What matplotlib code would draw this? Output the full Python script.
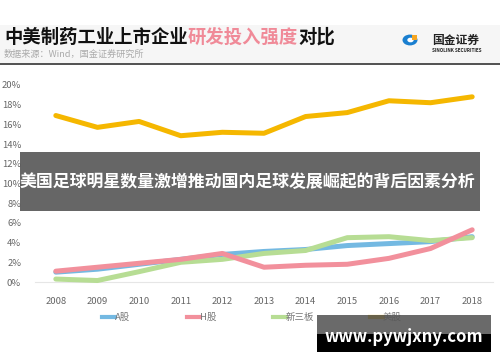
import matplotlib
matplotlib.use("Agg")
import matplotlib.pyplot as plt
import matplotlib.patches as mpatches
from matplotlib.lines import Line2D

plt.rcParams['font.family'] = ['Noto Sans CJK SC', 'DejaVu Sans']

# === datos ===
anios = ['2008', '2009', '2010', '2011', '2012', '2013', '2014', '2015', '2016', '2017', '2018']
a_gu = [1.0, 1.3, 1.8, 2.3, 2.8, 3.1, 3.3, 3.7, 3.9, 4.1, 4.6]
h_gu = [1.1, 1.5, 1.9, 2.3, 2.9, 1.5, 1.7, 1.8, 2.4, 3.4, 5.3]
xinsanban = [0.3, 0.15, 1.05, 2.0, 2.3, 2.9, 3.2, 4.5, 4.6, 4.2, 4.5]
mei_gu = [16.9, 15.7, 16.3, 14.85, 15.2, 15.1, 16.8, 17.2, 18.4, 18.2, 18.8]
yticks = [0, 2, 4, 6, 8, 10, 12, 14, 16, 18, 20]

c_a = '#74b9e2'
c_h = '#f2909c'
c_x = '#b7dd94'
c_m = '#f5b700'

W, H = 500, 362
fig = plt.figure(figsize=(5, 3.62), dpi=100)
fig.patch.set_facecolor('white')

def fx(px):
    return px / W

def fy(py):
    return 1 - py / H

# cabecera gris clara
fig.patches.append(mpatches.Rectangle((0, fy(63)), 1, fy(25) - fy(63), transform=fig.transFigure,
                                      facecolor='#f6f6f6', edgecolor='none', zorder=0))
fig.add_artist(Line2D([0, 1], [fy(63.5), fy(63.5)], color='#333333', lw=1.2))

# titulo en tres colores
piezas = [("中美制药工业上市企业", '#111111'), ("研发投入强度", '#f08a98'), ("对比", '#111111')]
fig.canvas.draw()
r = fig.canvas.get_renderer()
x0 = fx(4)
for txt, col in piezas:
    t = fig.text(x0, fy(37), txt, fontsize=13.2, fontweight='bold', color=col, va='center', ha='left')
    bb = t.get_window_extent(renderer=r)
    x0 = bb.x1 / (W)
fig.text(fx(4), fy(54), "数据来源：Wind，国金证券研究所", fontsize=6.6, color='#aaaaaa', va='center')

# logo
fig.patches.append(mpatches.Circle((fx(410), fy(40)), 7.5 / W, transform=fig.transFigure,
                                   facecolor='#1a7fd0', edgecolor='none'))
fig.patches.append(mpatches.Circle((fx(410.5), fy(40)), 3.2 / W, transform=fig.transFigure,
                                   facecolor='white', edgecolor='none'))
fig.patches.append(mpatches.Rectangle((fx(412), fy(40)), 5 / W, 5 / H, transform=fig.transFigure,
                                      facecolor='#f5a623', edgecolor='none'))
fig.text(fx(432), fy(40), "国金证券", fontsize=8.5, fontweight='bold', color='#222222', va='center')
fig.text(fx(432), fy(51), "SINOLINK SECURITIES", fontsize=3.3, fontweight='bold', color='#222222', va='center')

# === grafico ===
ax = fig.add_axes([fx(35), fy(282), fx(493) - fx(35), (282 - 85) / H])
x = list(range(len(anios)))
lw = 3.6
ax.plot(x, a_gu, color=c_a, lw=lw, solid_capstyle='round', label='A股', zorder=3)
ax.plot(x, xinsanban, color=c_x, lw=lw, solid_capstyle='round', label='新三板', zorder=3)
ax.plot(x, h_gu, color=c_h, lw=lw, solid_capstyle='round', label='H股', zorder=4)
ax.plot(x, mei_gu, color=c_m, lw=lw, solid_capstyle='round', label='美股', zorder=3)

ax.set_xlim(-0.5, len(anios) - 0.5)
ax.set_ylim(0, 20)
ax.set_yticks(yticks)
ax.set_yticklabels([f"{v}%" for v in yticks])
ax.set_xticks(x)
ax.set_xticklabels(anios)
ax.tick_params(length=0, labelsize=6.8, colors='#666666')
ax.tick_params(axis='y', pad=10)
ax.tick_params(axis='x', pad=11)
for s in ['top', 'right', 'left']:
    ax.spines[s].set_visible(False)
ax.spines['bottom'].set_color('#e6e6e6')
for ln in ax.lines:
    ln.set_clip_on(False)

# leyenda
orden = [('A股', c_a, 102), ('H股', c_h, 187), ('新三板', c_x, 273), ('美股', c_m, 370)]
for nombre, col, px in orden:
    fig.add_artist(Line2D([fx(px), fx(px + 13)], [fy(317), fy(317)], color=col, lw=3))
    fig.text(fx(px + 13), fy(317), nombre, fontsize=6.8, color='#777777', va='center', ha='left')

# banda gris con texto superpuesto
fig.patches.append(mpatches.Rectangle((fx(20), fy(211)), fx(480) - fx(20), (211 - 152) / H,
                                      transform=fig.transFigure, facecolor='#5a5a5a', alpha=0.93,
                                      edgecolor='none', zorder=10))
fig.text(fx(20), fy(182), "美国足球明星数量激增推动国内足球发展崛起的背后因素分析", fontsize=12.2,
         fontweight='bold', color='white', va='center', ha='left', zorder=11)

# marca de agua
fig.patches.append(mpatches.Rectangle((fx(317), fy(334)), fx(491) - fx(317), (334 - 315) / H,
                                      transform=fig.transFigure, facecolor='#555555', alpha=0.88,
                                      edgecolor='none', zorder=10))
fig.patches.append(mpatches.Rectangle((fx(317), fy(352)), fx(491) - fx(317), (352 - 334) / H,
                                      transform=fig.transFigure, facecolor='black',
                                      edgecolor='none', zorder=10))
fig.text(fx(404), fy(337), "www.pywjxny.com", fontsize=12, fontweight='bold', color='white',
         va='center', ha='center', zorder=11)

fig.savefig("out.png", dpi=100)
